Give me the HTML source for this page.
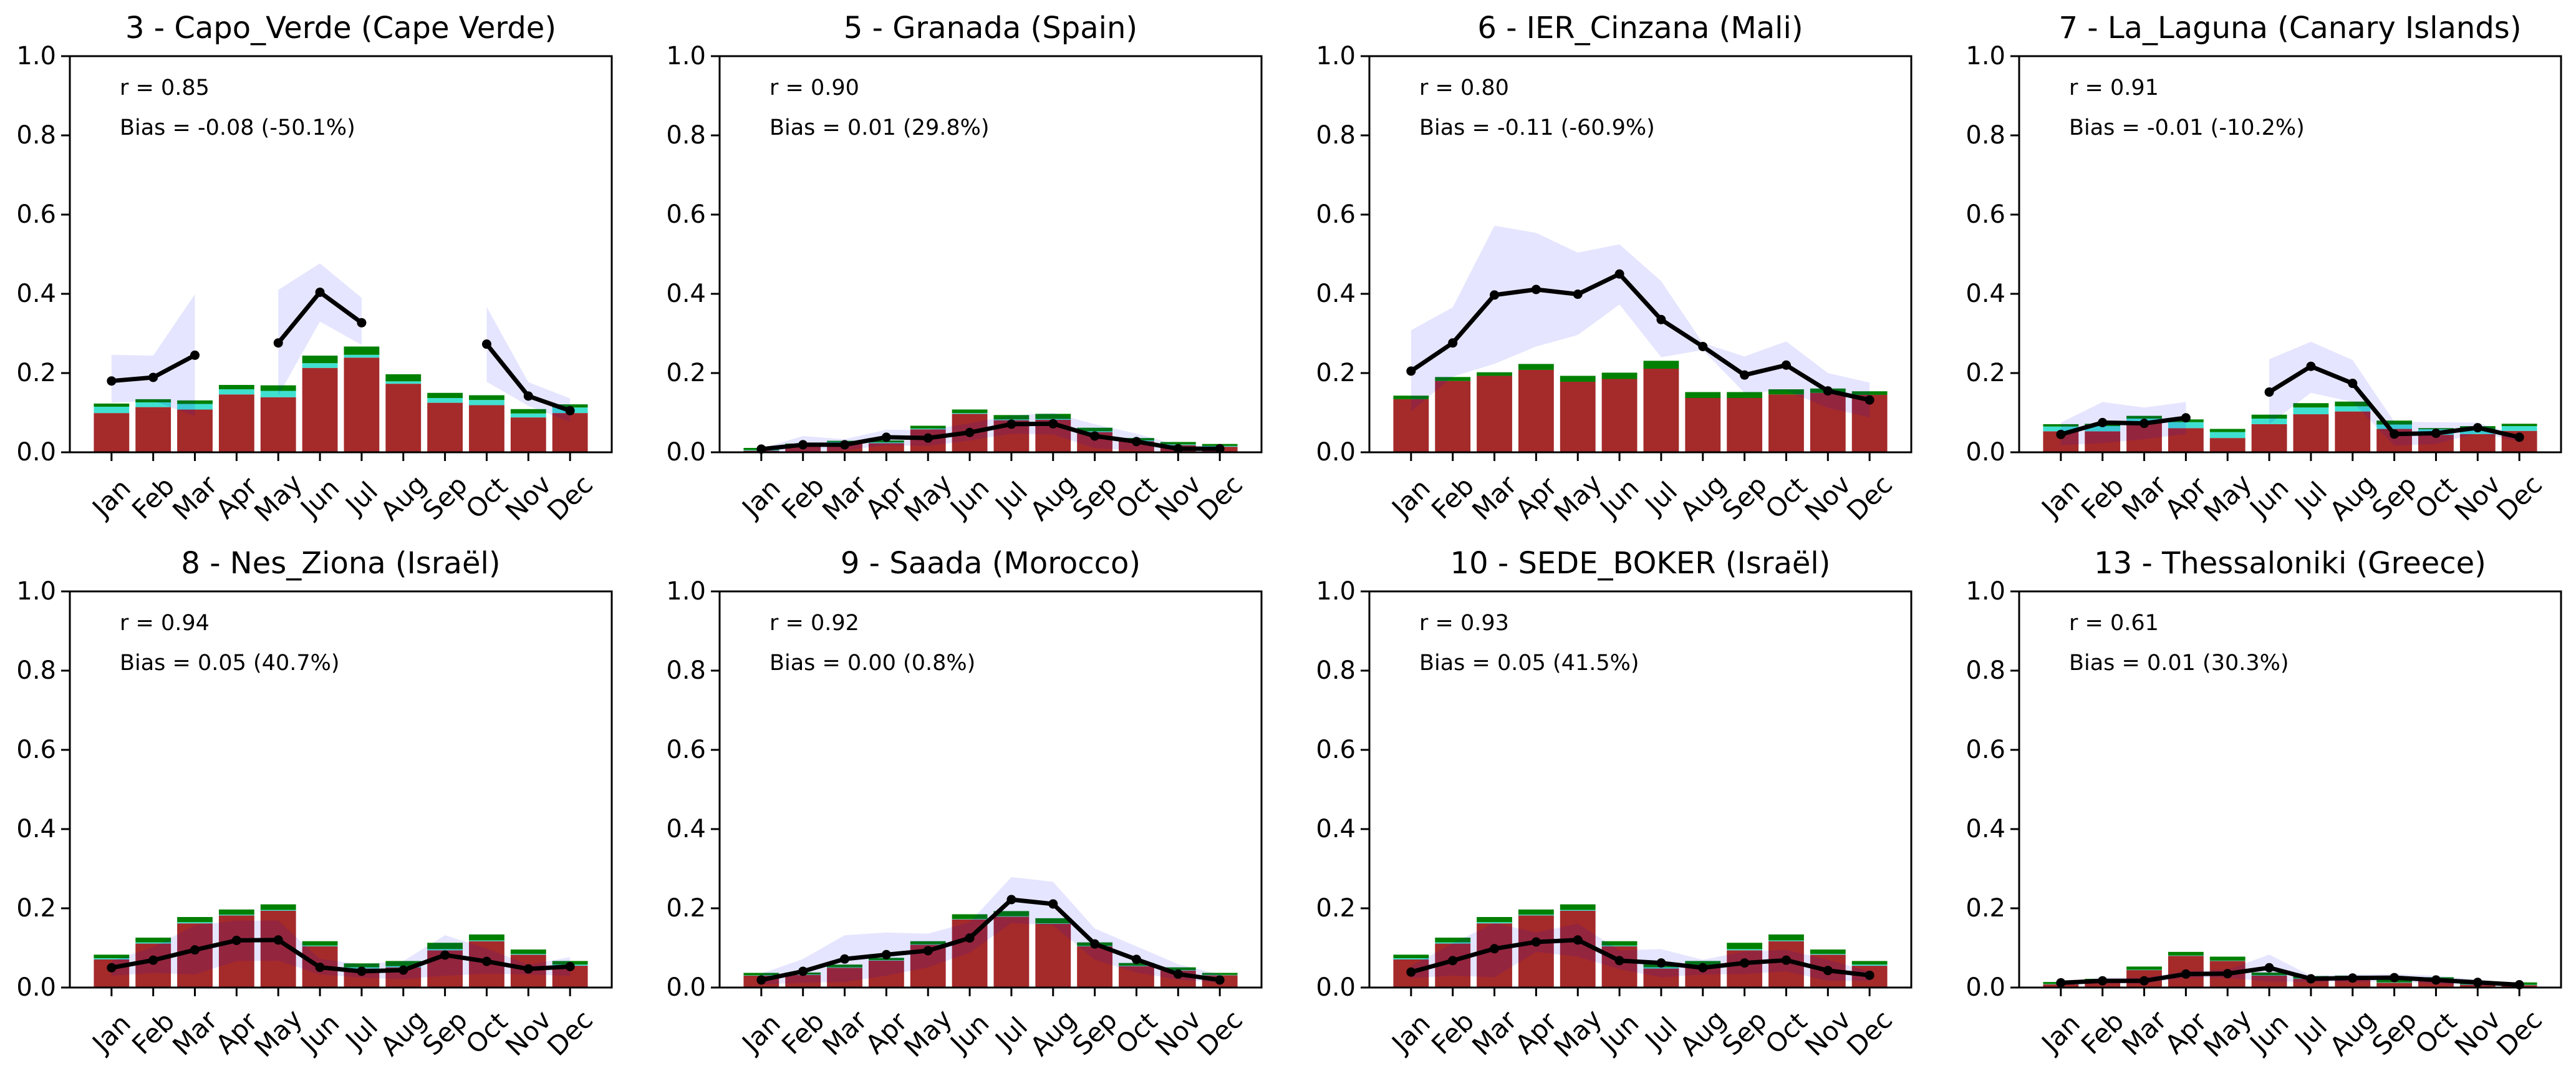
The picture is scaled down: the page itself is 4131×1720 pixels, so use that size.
<!DOCTYPE html>
<html><head><meta charset="utf-8"><style>
html,body{margin:0;padding:0;background:#fff;}
svg{display:block;font-family:"DejaVu Sans","Liberation Sans",sans-serif;}
</style></head><body>
<svg id="chart" width="4131" height="1720" viewBox="0 0 4131 1720" xmlns="http://www.w3.org/2000/svg"></svg>
<script>
const months = ["Jan","Feb","Mar","Apr","May","Jun","Jul","Aug","Sep","Oct","Nov","Dec"];
const yTicks = [0,0.2,0.4,0.6,0.8,1.0];
const yTickLabels = ["0.0","0.2","0.4","0.6","0.8","1.0"];
const titles = ["3 - Capo_Verde (Cape Verde)","5 - Granada (Spain)","6 - IER_Cinzana (Mali)","7 - La_Laguna (Canary Islands)","8 - Nes_Ziona (Israël)","9 - Saada (Morocco)","10 - SEDE_BOKER (Israël)","13 - Thessaloniki (Greece)"];
const rLabels = ["r = 0.85","r = 0.90","r = 0.80","r = 0.91","r = 0.94","r = 0.92","r = 0.93","r = 0.61"];
const biasLabels = ["Bias = -0.08 (-50.1%)","Bias = 0.01 (29.8%)","Bias = -0.11 (-60.9%)","Bias = -0.01 (-10.2%)","Bias = 0.05 (40.7%)","Bias = 0.00 (0.8%)","Bias = 0.05 (41.5%)","Bias = 0.01 (30.3%)"];
const redVals = [
[0.099,0.114,0.108,0.146,0.139,0.213,0.239,0.173,0.125,0.119,0.088,0.099],
[0.004,0.018,0.024,0.023,0.058,0.097,0.081,0.082,0.051,0.028,0.018,0.014],
[0.134,0.180,0.193,0.208,0.178,0.185,0.211,0.137,0.137,0.146,0.150,0.145],
[0.053,0.053,0.075,0.061,0.036,0.071,0.096,0.103,0.059,0.044,0.046,0.054],
[0.071,0.111,0.162,0.182,0.194,0.104,0.048,0.051,0.094,0.117,0.083,0.055],
[0.030,0.032,0.050,0.068,0.108,0.172,0.179,0.161,0.104,0.054,0.043,0.031],
[0.071,0.111,0.162,0.182,0.194,0.104,0.048,0.051,0.094,0.117,0.083,0.055],
[0.008,0.019,0.044,0.080,0.067,0.030,0.022,0.025,0.012,0.020,0.007,0.006]];
const cyanVals = [
[0.115,0.126,0.122,0.159,0.155,0.225,0.246,0.179,0.137,0.132,0.098,0.113],
[0.006,0.020,0.026,0.025,0.060,0.099,0.083,0.084,0.053,0.030,0.020,0.016],
[0.134,0.180,0.193,0.208,0.178,0.185,0.211,0.137,0.137,0.146,0.150,0.145],
[0.065,0.066,0.085,0.076,0.051,0.085,0.113,0.116,0.070,0.058,0.057,0.066],
[0.074,0.114,0.165,0.184,0.196,0.106,0.051,0.054,0.097,0.119,0.085,0.058],
[0.031,0.033,0.051,0.069,0.109,0.173,0.180,0.162,0.105,0.055,0.044,0.032],
[0.074,0.114,0.165,0.184,0.196,0.106,0.051,0.054,0.097,0.119,0.085,0.058],
[0.009,0.020,0.045,0.081,0.068,0.031,0.023,0.026,0.013,0.021,0.008,0.007]];
const greenVals = [
[0.123,0.134,0.131,0.170,0.169,0.244,0.267,0.197,0.150,0.144,0.109,0.121],
[0.011,0.022,0.029,0.030,0.067,0.108,0.094,0.097,0.062,0.036,0.026,0.021],
[0.143,0.190,0.202,0.223,0.193,0.201,0.231,0.152,0.152,0.159,0.161,0.154],
[0.071,0.072,0.092,0.083,0.059,0.095,0.124,0.128,0.080,0.061,0.066,0.072],
[0.083,0.126,0.178,0.197,0.210,0.117,0.061,0.067,0.113,0.134,0.096,0.067],
[0.037,0.038,0.058,0.075,0.117,0.185,0.193,0.175,0.114,0.062,0.051,0.037],
[0.083,0.126,0.178,0.197,0.210,0.117,0.059,0.067,0.113,0.134,0.096,0.067],
[0.014,0.022,0.053,0.090,0.078,0.038,0.029,0.030,0.020,0.026,0.012,0.013]];
const obsVals = [
[0.180,0.189,0.245,null,0.276,0.404,0.327,null,null,0.273,0.142,0.105],
[0.008,0.019,0.019,0.038,0.036,0.050,0.071,0.072,0.041,0.027,0.009,0.009],
[0.205,0.276,0.397,0.411,0.399,0.450,0.335,0.267,0.195,0.220,0.155,0.132],
[0.045,0.075,0.073,0.087,null,0.152,0.217,0.174,0.046,0.048,0.062,0.038],
[0.050,0.069,0.095,0.119,0.120,0.051,0.041,0.044,0.082,0.066,0.047,0.053],
[0.019,0.041,0.072,0.083,0.093,0.125,0.222,0.211,0.110,0.071,0.034,0.019],
[0.039,0.068,0.098,0.115,0.120,0.068,0.062,0.050,0.062,0.069,0.043,0.031],
[0.012,0.017,0.017,0.034,0.035,0.050,0.022,0.024,0.025,0.019,0.013,0.007]];
const upperVals = [
[0.246,0.244,0.399,null,0.410,0.477,0.390,null,null,0.367,0.177,0.136],
[0.010,0.041,0.033,0.057,0.056,0.073,0.093,0.099,0.071,0.047,0.018,0.016],
[0.308,0.366,0.572,0.554,0.504,0.525,0.432,0.276,0.242,0.280,0.200,0.176],
[0.075,0.127,0.113,0.127,null,0.235,0.279,0.233,0.077,0.076,0.075,0.041],
[0.067,0.102,0.157,0.169,0.169,0.072,0.059,0.067,0.132,0.099,0.057,0.077],
[0.035,0.072,0.132,0.139,0.136,0.165,0.279,0.267,0.149,0.104,0.059,0.033],
[0.054,0.112,0.163,0.139,0.161,0.094,0.097,0.070,0.091,0.095,0.070,0.041],
[0.015,0.025,0.025,0.041,0.045,0.083,0.030,0.033,0.034,0.030,0.020,0.010]];
const lowerVals = [
[0.125,0.130,0.092,null,0.143,0.330,0.271,null,null,0.178,0.117,0.077],
[0.001,0.002,0.005,0.018,0.016,0.030,0.047,0.045,0.010,0.005,0.003,0.002],
[0.103,0.191,0.223,0.267,0.296,0.373,0.240,0.258,0.150,0.156,0.112,0.088],
[0.018,0.023,0.033,0.046,null,0.071,0.150,0.127,0.017,0.021,0.049,0.028],
[0.030,0.037,0.033,0.067,0.068,0.033,0.025,0.021,0.030,0.035,0.033,0.030],
[0.008,0.012,0.014,0.030,0.051,0.088,0.163,0.157,0.070,0.038,0.020,0.012],
[0.024,0.030,0.026,0.090,0.078,0.046,0.026,0.033,0.034,0.041,0.017,0.017],
[0.006,0.010,0.010,0.025,0.025,0.015,0.014,0.014,0.015,0.009,0.005,0.003]];

const NS="http://www.w3.org/2000/svg";
const svg=document.getElementById('chart');
function mk(tag,attrs,parent){const e=document.createElementNS(NS,tag);for(const k in attrs)e.setAttribute(k,attrs[k]);(parent||svg).appendChild(e);return e;}
const lefts=[112,1154,2196,3238], W=869, H=635;
const bottoms=[725,1583];
for(let p=0;p<8;p++){
  const L=lefts[p%4], B=bottoms[Math.floor(p/4)], T=B-H;
  const g=mk('g',{});
  
  
  const x=i=>L+(i+1)*W/13;
  const y=v=>B-v*H;
  const bw=0.85*W/13;
  for(let i=0;i<12;i++){
    const r=mk('rect',{x:x(i)-bw/2,y:y(redVals[p][i]),width:bw,height:y(0)-y(redVals[p][i]),fill:'#a52a2a'},g);
    
    
    const c=mk('rect',{x:x(i)-bw/2,y:y(cyanVals[p][i]),width:bw,height:Math.max(0,y(redVals[p][i])-y(cyanVals[p][i])),fill:'#40e0d0'},g);
    
    
    const gr=mk('rect',{x:x(i)-bw/2,y:y(greenVals[p][i]),width:bw,height:Math.max(0,y(cyanVals[p][i])-y(greenVals[p][i])),fill:'#008000'},g);
    
    
  }
  let segs=[],cur=[];
  for(let i=0;i<12;i++){ if(obsVals[p][i]===null||upperVals[p][i]===null){if(cur.length)segs.push(cur);cur=[];} else cur.push(i);}
  if(cur.length)segs.push(cur);
  segs.forEach(s=>{
    let d='';
    s.forEach((i,k)=>{d+=(k?'L':'M')+x(i)+','+y(upperVals[p][i]);});
    for(let k=s.length-1;k>=0;k--){d+='L'+x(s[k])+','+y(lowerVals[p][s[k]]);}
    const band=mk('path',{d:d+'Z',fill:'blue','fill-opacity':0.1},g);
    
    
  });
  segs.forEach(s=>{
    const pts=s.map(i=>x(i)+','+y(obsVals[p][i])).join(' ');
    const ln=mk('polyline',{points:pts,fill:'none',stroke:'#000','stroke-width':7,'stroke-linejoin':'round'},g);
    
    
    s.forEach(i=>{
      const m=mk('circle',{cx:x(i),cy:y(obsVals[p][i]),r:7.5,fill:'#000'},g);
      
      
    });
  });
  const fr=mk('rect',{x:L,y:T,width:W,height:H,fill:'none',stroke:'#000','stroke-width':3},g);
  
  
  yTicks.forEach((v,k)=>{
    mk('line',{x1:L-14,x2:L,y1:y(v),y2:y(v),stroke:'#000','stroke-width':3},g);
    const t=mk('text',{x:L-22,y:y(v),'font-size':40,'text-anchor':'end','dominant-baseline':'central',fill:'#000'},g);
    t.textContent=yTickLabels[k];
    
    
  });
  months.forEach((m,i)=>{
    mk('line',{x1:x(i),x2:x(i),y1:B,y2:B+14,stroke:'#000','stroke-width':3},g);
    const w=m.length*0.62*42, h=49;
    const cy=B+28+(w+h)*0.707/2;
    const t=mk('text',{x:x(i),y:cy,'font-size':42,'text-anchor':'middle','dominant-baseline':'central',transform:'rotate(-45 '+x(i)+' '+cy+')',fill:'#000'},g);
    t.textContent=m;
    
    
  });
  const tt=mk('text',{x:L+W/2,y:T-45,'font-size':48,'text-anchor':'middle','dominant-baseline':'central',fill:'#000'},g);
  tt.textContent=titles[p];
  
  
  const rt=mk('text',{x:L+80,y:T+51,'font-size':35,'dominant-baseline':'central',fill:'#000'},g);
  rt.textContent=rLabels[p];
  
  
  const bt=mk('text',{x:L+80,y:T+115,'font-size':35,'dominant-baseline':'central',fill:'#000'},g);
  bt.textContent=biasLabels[p];
  
  
}
</script>
</body></html>
